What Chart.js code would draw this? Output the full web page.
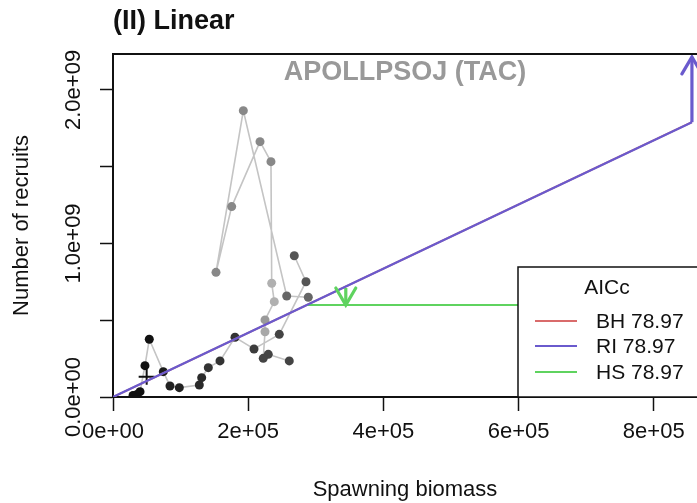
<!DOCTYPE html>
<html><head><meta charset="utf-8">
<script src="https://cdn.jsdelivr.net/npm/chart.js@4.4.1/dist/chart.umd.min.js"></script>
<style>html,body{margin:0;padding:0;background:#fff;overflow:hidden}canvas{display:block}</style>
</head><body>
<canvas id="c" width="697" height="503"></canvas>
<script>
// ---- data ----
const ssbA = [29600, 35500, 40000, 47300, 53700, 74400, 84300, 98100, 127700, 131200, 141000, 158300, 180500, 208600, 246000, 285500, 268200];
const recA = [0.010e9, 0.016e9, 0.035e9, 0.204e9, 0.376e9, 0.165e9, 0.072e9, 0.061e9, 0.078e9, 0.126e9, 0.191e9, 0.235e9, 0.389e9, 0.313e9, 0.408e9, 0.751e9, 0.920e9];
const ssbB = [260800, 229700, 222300, 224900, 224900, 238600, 234800, 233700, 217500, 175600, 152400, 192800, 257000, 288900];
const recB = [0.235e9, 0.278e9, 0.252e9, 0.425e9, 0.502e9, 0.621e9, 0.741e9, 1.533e9, 1.663e9, 1.240e9, 0.812e9, 1.865e9, 0.658e9, 0.650e9];
const crossSsb = [49800];
const crossRec = [0.132e9];
const fitSsb = [0, 856500];
const riRec = [0, 1.79e9];
const bhRec = [0, 1.79e9];
const hsSsb = [286600, 864000];
const hsRec = [0.599e9, 0.599e9];
const arrowSsb = [856500, 344400];
const arrowFrom = [1.79e9, 0.710e9];
const arrowTo = [2.215e9, 0.599e9];
const models = ['BH', 'RI', 'HS'];
const aiccValues = [78.97, 78.97, 78.97];
const xTicks = [0, 200000, 400000, 600000, 800000];
const xTickLabels = ['0e+00', '2e+05', '4e+05', '6e+05', '8e+05'];
const yTicks = [0, 0.5e9, 1e9, 1.5e9, 2e9];
const yTickLabels = ['0.0e+00', '', '1.0e+09', '', '2.0e+09'];

// ---- styles ----
const FONT = '"Liberation Sans", Arial, Helvetica, sans-serif';
const shadeA = ['#111','#111','#111','#111','#111','#1a1a1a','#222','#222','#2a2a2a','#2a2a2a','#333','#333','#333','#3c3c3c','#444','#555','#555'];
const shadeB = ['#444','#444','#444','#a8a8a8','#999','#b0b0b0','#b0b0b0','#888','#888','#888','#888','#888','#666','#666'];
const COL = {BH: '#d96b6b', RI: '#6a5acd', HS: '#5fd35f'};

const pts = (xs, ys) => xs.map((v, i) => ({x: v, y: ys[i]}));

const decor = {
  id: 'decor',
  afterDatasetsDraw(chart) {
    const {ctx, scales: {x, y}} = chart;
    const arrowCols = [COL.RI, COL.HS];
    ctx.save();
    ctx.lineWidth = 3.2;
    ctx.lineCap = 'round';
    for (let i = 0; i < arrowSsb.length; i++) {
      const tx = x.getPixelForValue(arrowSsb[i]);
      const ty = y.getPixelForValue(arrowTo[i]);
      const dir = arrowTo[i] > arrowFrom[i] ? 1 : -1;
      ctx.strokeStyle = arrowCols[i];
      ctx.beginPath();
      ctx.moveTo(tx - 10, ty + 17 * dir);
      ctx.lineTo(tx, ty);
      ctx.lineTo(tx + 10, ty + 17 * dir);
      ctx.stroke();
    }
    ctx.restore();
  },
  afterDraw(chart) {
    const {ctx, chartArea: a} = chart;
    ctx.save();
    // top frame line
    ctx.strokeStyle = '#111';
    ctx.lineWidth = 2;
    ctx.beginPath();
    ctx.moveTo(a.left - 1, a.top);
    ctx.lineTo(chart.width + 5, a.top);
    ctx.stroke();
    // titles
    ctx.fillStyle = '#111';
    ctx.font = 'bold 27px ' + FONT;
    ctx.textAlign = 'left';
    ctx.textBaseline = 'alphabetic';
    ctx.fillText('(II) Linear', a.left, 29);
    ctx.fillStyle = '#999';
    ctx.font = 'bold 27px ' + FONT;
    ctx.textAlign = 'center';
    ctx.fillText('APOLLPSOJ (TAC)', (a.left + a.right) / 2, 80);
    // legend box
    const lx = 518, ly = 267;
    ctx.fillStyle = '#fff';
    ctx.fillRect(lx, ly, chart.width - lx + 10, a.bottom - ly);
    ctx.strokeStyle = '#111';
    ctx.lineWidth = 1.5;
    ctx.strokeRect(lx, ly, chart.width - lx + 10, a.bottom - ly);
    ctx.fillStyle = '#111';
    ctx.font = '21px ' + FONT;
    ctx.textAlign = 'center';
    ctx.textBaseline = 'middle';
    ctx.fillText('AICc', 607, 288);
    const rows = [321, 346, 372];
    models.forEach((m, i) => {
      const ds = chart.data.datasets.find(d => d.label === m);
      ctx.strokeStyle = ds.borderColor;
      ctx.lineWidth = 2;
      ctx.beginPath();
      ctx.moveTo(535, rows[i]);
      ctx.lineTo(577, rows[i]);
      ctx.stroke();
      ctx.fillStyle = '#111';
      ctx.textAlign = 'left';
      ctx.fillText(m + ' ' + aiccValues[i].toFixed(2), 596, rows[i] + 1);
    });
    ctx.restore();
  }
};

new Chart(document.getElementById('c'), {
  type: 'scatter',
  data: {
    datasets: [
      {label: 'RI', data: pts(fitSsb, riRec), showLine: true, borderColor: COL.RI, borderWidth: 2.2, pointRadius: 0, order: 1},
      {label: 'RI arrow', data: [{x: arrowSsb[0], y: arrowFrom[0]}, {x: arrowSsb[0], y: arrowTo[0]}], showLine: true, borderColor: COL.RI, borderWidth: 3.2, pointRadius: 0, order: 1},
      {label: 'HS', data: pts(hsSsb, hsRec), showLine: true, borderColor: COL.HS, borderWidth: 2, pointRadius: 0, order: 2},
      {label: 'HS arrow', data: [{x: arrowSsb[1], y: arrowFrom[1]}, {x: arrowSsb[1], y: arrowTo[1]}], showLine: true, borderColor: COL.HS, borderWidth: 3.2, pointRadius: 0, order: 2},
      {label: 'BH', data: pts(fitSsb, bhRec), showLine: true, borderColor: COL.BH, borderWidth: 2, pointRadius: 0, order: 3},
      {label: 'obsA', data: pts(ssbA, recA), showLine: true, borderColor: '#c4c4c4', borderWidth: 1.6, pointRadius: 4.5, pointBackgroundColor: shadeA, pointBorderWidth: 0, order: 10},
      {label: 'obsB', data: pts(ssbB, recB), showLine: true, borderColor: '#c4c4c4', borderWidth: 1.6, pointRadius: 4.5, pointBackgroundColor: shadeB, pointBorderWidth: 0, order: 11},
      {label: 'cross', data: pts(crossSsb, crossRec), showLine: false, pointStyle: 'cross', pointRadius: 8, borderColor: '#111', borderWidth: 2, order: 9}
    ]
  },
  options: {
    responsive: false,
    animation: false,
    devicePixelRatio: 1,
    layout: {autoPadding: false, padding: {top: 54, left: 0, right: 0, bottom: 0}},
    plugins: {legend: {display: false}, tooltip: {enabled: false}, title: {display: false}},
    scales: {
      x: {
        type: 'linear', min: 0, max: 864000,
        afterBuildTicks: s => { s.ticks = xTicks.map(v => ({value: v})); },
        afterFit: s => { s.height = 106; s.paddingLeft = 0; s.paddingRight = 0; },
        ticks: {
          callback: v => { const i = xTicks.indexOf(v); return i >= 0 ? xTickLabels[i] : ''; },
          maxRotation: 0, minRotation: 0, autoSkip: false, padding: 8,
          color: '#111', font: {family: FONT, size: 22}
        },
        grid: {display: true, drawOnChartArea: false, drawTicks: true, tickLength: 14, tickColor: '#111', tickWidth: 1.5},
        border: {display: true, color: '#111', width: 2},
        title: {display: true, text: 'Spawning biomass', color: '#111', font: {family: FONT, size: 22}, padding: {top: 0, bottom: 0}}
      },
      y: {
        type: 'linear', min: 0, max: 2.234e9,
        afterBuildTicks: s => { s.ticks = yTicks.map(v => ({value: v})); },
        afterFit: s => { s.width = 113; s.paddingTop = 0; s.paddingBottom = 0; },
        ticks: {
          callback: v => { const i = yTicks.indexOf(v); return i >= 0 ? yTickLabels[i] : ''; },
          minRotation: 90, maxRotation: 90, crossAlign: 'center', padding: -14, autoSkip: false,
          color: '#111', font: {family: FONT, size: 22}
        },
        grid: {display: true, drawOnChartArea: false, drawTicks: true, tickLength: 13, tickColor: '#111', tickWidth: 1.5},
        border: {display: true, color: '#111', width: 2},
        title: {display: true, text: 'Number of recruits', color: '#111', font: {family: FONT, size: 22}, padding: {top: 9, bottom: 0}}
      }
    }
  },
  plugins: [decor]
});
</script>
</body></html>
